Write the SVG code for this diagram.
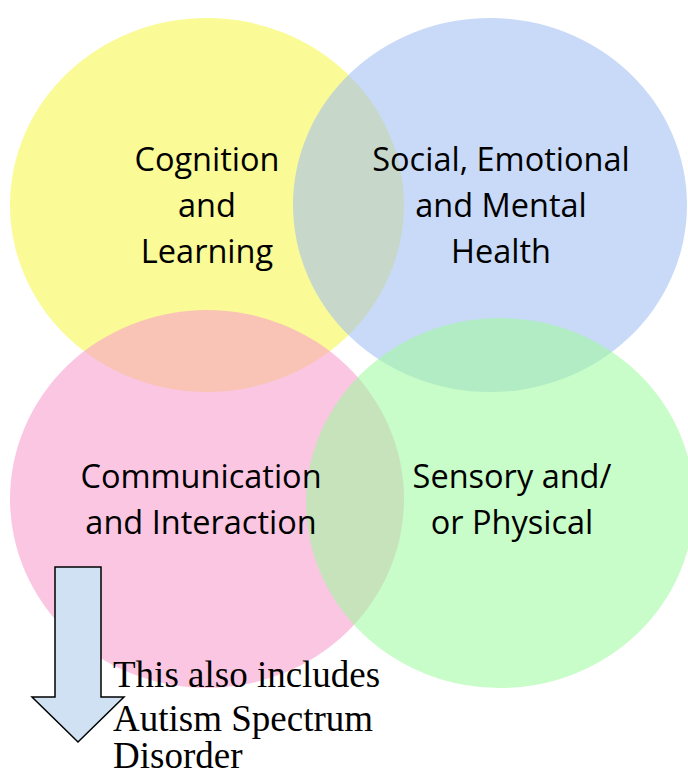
<svg xmlns="http://www.w3.org/2000/svg" width="688" height="775" viewBox="0 0 688 775">
<style>
.c{opacity:0.57}
.lbl{font-family:"Open Sans","Liberation Sans",sans-serif;font-size:32.5px;fill:#000;text-anchor:middle}
.note{font-family:"Liberation Serif","Times New Roman",serif;font-size:37px;fill:#000}
</style>
<rect width="688" height="775" fill="#fff"/>
<g id="cognition">
<ellipse class="c" cx="207" cy="205" rx="197" ry="187" fill="#f6f647"/>
</g>
<g id="social">
<ellipse class="c" cx="490" cy="205" rx="197" ry="187" fill="#a0bef3"/>
</g>
<g id="communication">
<ellipse class="c" cx="207" cy="499" rx="197" ry="189" fill="#f89bcc"/>
</g>
<g id="sensory">
<ellipse class="c" cx="500" cy="503" rx="194" ry="185" fill="#9ffa9f"/>
</g>
<g id="cognition-label">
<text class="lbl" x="207" y="171">Cognition</text>
<text class="lbl" x="207" y="217">and</text>
<text class="lbl" x="207" y="263">Learning</text>
</g>
<g id="social-label">
<text class="lbl" x="501" y="171">Social, Emotional</text>
<text class="lbl" x="501" y="217">and Mental</text>
<text class="lbl" x="501" y="263">Health</text>
</g>
<g id="communication-label">
<text class="lbl" x="201" y="488">Communication</text>
<text class="lbl" x="201" y="534">and Interaction</text>
</g>
<g id="sensory-label">
<text class="lbl" x="512" y="488">Sensory and/</text>
<text class="lbl" x="512" y="534">or Physical</text>
</g>
<g id="connectors">
<path d="M55,567 H101 V697 H124 L78,742 L32,697 H55 Z" fill="#cfe1f3" stroke="#000" stroke-width="1.5" stroke-linejoin="miter"/>
</g>
<g id="note">
<text class="note" x="113" y="687">This also includes</text>
<text class="note" x="113" y="731">Autism Spectrum</text>
<text class="note" x="113" y="768">Disorder</text>
</g>
</svg>
